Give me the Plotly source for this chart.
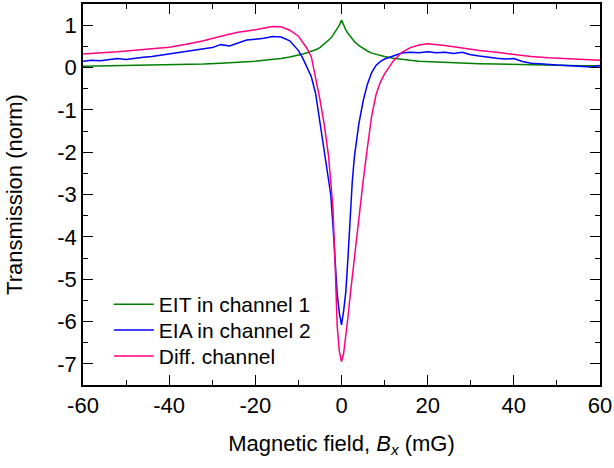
import plotly.graph_objects as go

# Magnetic field (mG) for EIT and difference channel
b_field = [-60, -56, -52, -48, -44, -40, -36, -32, -28, -24, -20, -18, -16, -14, -12, -10,
           -9, -8, -7, -6, -5, -4, -3, -2.5, -2, -1.5, -1, -0.5, 0, 0.5, 1, 1.5, 2, 2.5, 3,
           4, 5, 6, 7, 8, 9, 10, 12, 14, 16, 18, 20, 24, 28, 32, 36, 40, 44, 48, 52, 56, 60]

eit_ch1 = [0.03, 0.035, 0.04, 0.045, 0.05, 0.06, 0.07, 0.08, 0.10, 0.12, 0.15, 0.17, 0.19, 0.21, 0.25, 0.29,
           0.32, 0.35, 0.38, 0.42, 0.47, 0.55, 0.64, 0.69, 0.76, 0.84, 0.92, 1.0, 1.12, 1.0, 0.89, 0.81, 0.74, 0.67, 0.61,
           0.52, 0.45, 0.39, 0.34, 0.31, 0.28, 0.26, 0.22, 0.19, 0.17, 0.15, 0.14, 0.12, 0.10, 0.09, 0.08, 0.07, 0.06, 0.05, 0.05, 0.04, 0.04]

diff_ch = [0.32, 0.34, 0.37, 0.41, 0.45, 0.48, 0.55, 0.63, 0.74, 0.83, 0.89, 0.93, 0.97, 0.96, 0.88, 0.74,
           0.6, 0.45, 0.25, -0.25, -0.76, -1.35, -2.1, -2.7, -3.3, -4.6, -6.1, -6.7, -6.95, -6.75, -6.35, -5.9, -5.4, -4.95, -4.45,
           -3.5, -2.7, -1.9, -1.15, -0.65, -0.35, -0.15, 0.15, 0.36, 0.47, 0.53, 0.56, 0.52, 0.46, 0.40, 0.36, 0.31, 0.26, 0.23, 0.21, 0.19, 0.17]

# Magnetic field (mG) for the EIA channel (denser, noisy trace)
eia_field = [-60, -58, -56, -54, -52, -50, -48, -46, -44, -42, -40, -38, -36, -34, -32, -30, -28, -26, -24, -22,
             -20, -18, -16, -14, -12,
             -10, -9, -8, -7, -6, -5, -4, -3,
             -2.5, -2, -1.5, -1, -0.5, 0, 0.5, 1, 1.5, 2, 2.5, 3,
             4, 5, 6, 7, 8, 9, 10,
             12, 14, 16, 18, 20, 22, 24, 26, 28, 30, 32, 34, 36, 38, 40, 42, 44, 46, 48, 50, 52, 54, 56, 58, 60]

eia_ch2 = [0.15, 0.17, 0.16, 0.19, 0.21, 0.19, 0.22, 0.24, 0.26, 0.29, 0.33, 0.36, 0.38, 0.41, 0.44, 0.47, 0.54, 0.51, 0.58, 0.65,
           0.67, 0.69, 0.73, 0.72, 0.63,
           0.40, 0.22, 0.0, -0.22, -0.62, -1.3, -2.0, -2.6,
           -3.0, -3.7, -4.6, -5.35, -5.8, -6.08, -5.75, -5.3, -4.5, -3.5, -2.7, -2.1,
           -1.35, -0.8, -0.4, -0.12, 0.05, 0.14, 0.2,
           0.27, 0.34, 0.36, 0.35, 0.37, 0.35, 0.36, 0.33, 0.36, 0.30, 0.27, 0.24, 0.22, 0.20, 0.21, 0.14, 0.10, 0.09, 0.07, 0.06, 0.05, 0.04, 0.03, 0.01, 0.05]

x_ticks = [-60, -40, -20, 0, 20, 40, 60]
x_labels = ["-60", "-40", "-20", "0", "20", "40", "60"]
y_ticks = [1, 0, -1, -2, -3, -4, -5, -6, -7]
y_labels = ["1", "0", "-1", "-2", "-3", "-4", "-5", "-6", "-7"]

FONT = "Liberation Sans, Arial, sans-serif"

fig = go.Figure()
fig.add_trace(go.Scatter(x=b_field, y=eit_ch1, mode="lines", name="EIT in channel 1",
                         line=dict(color="#008000", width=1.5), legend="legend"))
fig.add_trace(go.Scatter(x=eia_field, y=eia_ch2, mode="lines", name="EIA in channel 2",
                         line=dict(color="#0000ff", width=1.5), legend="legend2"))
fig.add_trace(go.Scatter(x=b_field, y=diff_ch, mode="lines", name="Diff. channel",
                         line=dict(color="#ff0080", width=1.5), legend="legend3"))

axis_common = dict(showline=True, linecolor="black", linewidth=1.5, mirror="allticks",
                    ticks="inside", ticklen=10, tickwidth=1.3, tickcolor="black",
                    showgrid=False, zeroline=False, automargin=False,
                    tickfont=dict(family=FONT, size=22, color="black"))

fig.update_xaxes(range=[-60, 60], tickvals=x_ticks, ticktext=x_labels,
                 minor=dict(ticks="inside", ticklen=5, tickwidth=1.3, tickcolor="black", dtick=10, tick0=0),
                 title=dict(text="Magnetic field, <i>B</i><sub><i>x</i></sub> (mG)",
                            font=dict(family=FONT, size=22, color="black"), standoff=18),
                 **axis_common)
fig.update_yaxes(range=[-7.5, 1.5], tickvals=y_ticks, ticktext=y_labels,
                 minor=dict(ticks="inside", ticklen=5, tickwidth=1.3, tickcolor="black", dtick=0.5, tick0=0),
                 title=dict(text="Transmission (norm)",
                            font=dict(family=FONT, size=22, color="black"), standoff=29),
                 **axis_common)

leg = dict(xanchor="left", yanchor="top", font=dict(family=FONT, size=21, color="black"),
           bgcolor="rgba(0,0,0,0)", itemwidth=40)
fig.update_layout(
    width=614, height=468,
    margin=dict(l=83, r=14, t=4, b=83),
    plot_bgcolor="white", paper_bgcolor="white",
    legend=dict(x=0.05, y=0.265, **leg),
    legend2=dict(x=0.05, y=0.197, **leg),
    legend3=dict(x=0.05, y=0.129, **leg),
    showlegend=True,
)

fig.write_html("out.html", post_script="document.body.style.margin='0px';",
               config={"displayModeBar": False})
